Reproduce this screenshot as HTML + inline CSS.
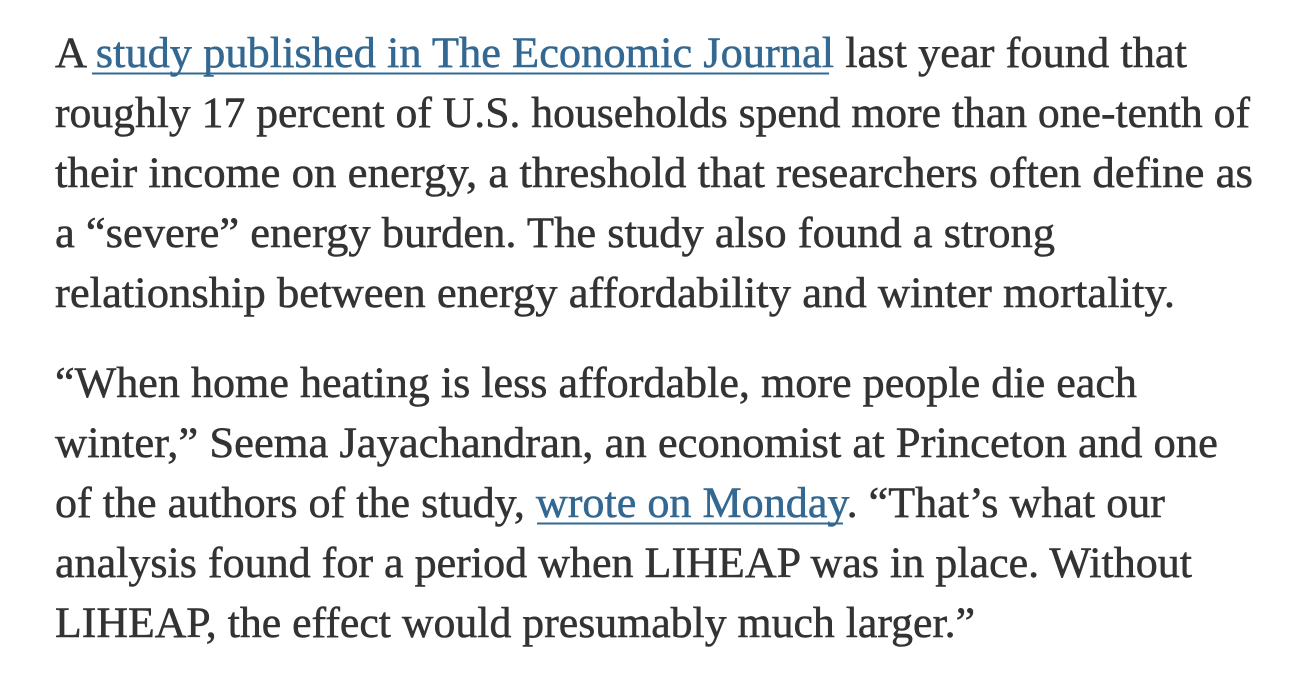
<!DOCTYPE html>
<html><head><meta charset="utf-8"><style>
html,body{margin:0;padding:0;background:#fff;width:1305px;height:687px;overflow:hidden}
svg{display:block}
text{font-family:"Liberation Serif",serif;font-size:43px;fill:#333;stroke:#333;stroke-width:0.5px}
.l{fill:#326891;stroke:#326891}
</style></head><body>
<svg width="1305" height="687" xmlns="http://www.w3.org/2000/svg">
<text x="55" y="67" textLength="1132" lengthAdjust="spacingAndGlyphs">A <tspan class="l">study published in The Economic Journal</tspan> last year found that</text>
<line x1="92" y1="73.5" x2="829" y2="73.5" stroke="#326891" stroke-width="2"/>
<text x="55" y="127" textLength="1195" lengthAdjust="spacingAndGlyphs">roughly 17 percent of U.S. households spend more than one-tenth of</text>
<text x="55" y="187" textLength="1198" lengthAdjust="spacingAndGlyphs">their income on energy, a threshold that researchers often define as</text>
<text x="55" y="247" textLength="1000" lengthAdjust="spacingAndGlyphs">a “severe” energy burden. The study also found a strong</text>
<text x="55" y="307" textLength="1120" lengthAdjust="spacingAndGlyphs">relationship between energy affordability and winter mortality.</text>
<text x="55" y="397" textLength="1082" lengthAdjust="spacingAndGlyphs">“When home heating is less affordable, more people die each</text>
<text x="55" y="457" textLength="1163" lengthAdjust="spacingAndGlyphs">winter,” Seema Jayachandran, an economist at Princeton and one</text>
<text x="55" y="517" textLength="1110" lengthAdjust="spacingAndGlyphs">of the authors of the study, <tspan class="l">wrote on Monday</tspan>. “That’s what our</text>
<line x1="537" y1="523.5" x2="843" y2="523.5" stroke="#326891" stroke-width="2"/>
<text x="55" y="577" textLength="1137" lengthAdjust="spacingAndGlyphs">analysis found for a period when LIHEAP was in place. Without</text>
<text x="55" y="637" textLength="920" lengthAdjust="spacingAndGlyphs">LIHEAP, the effect would presumably much larger.”</text>
</svg>
</body></html>
